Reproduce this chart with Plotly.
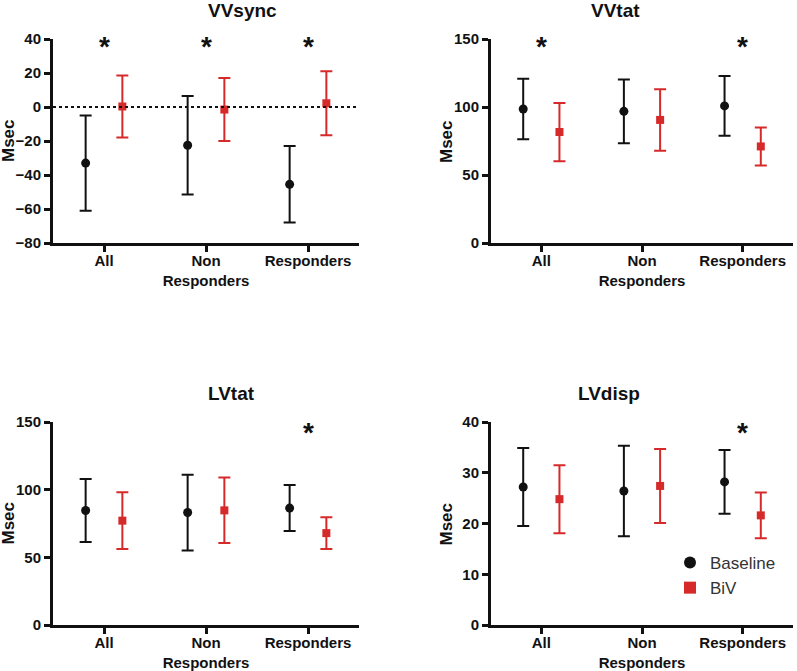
import plotly.graph_objects as go

W, H = 797, 671

categories = ["All", "Non<br>Responders", "Responders"]
series_names = ["Baseline", "BiV"]

# VVsync
vvsync_base_mean = [-33, -22.5, -45.5]
vvsync_base_err = [28, 29, 22.5]
vvsync_biv_mean = [0.3, -1.5, 2.2]
vvsync_biv_err = [18.3, 18.5, 18.8]
vvsync_sig = [True, True, True]

# VVtat
vvtat_base_mean = [98.5, 96.8, 100.8]
vvtat_base_err = [22.2, 23.5, 22]
vvtat_biv_mean = [81.6, 90.5, 71]
vvtat_biv_err = [21.4, 22.6, 14]
vvtat_sig = [True, False, True]

# LVtat
lvtat_base_mean = [84.6, 83.1, 86.4]
lvtat_base_err = [23.2, 28, 17]
lvtat_biv_mean = [77.1, 84.7, 67.9]
lvtat_biv_err = [21, 24.2, 11.7]
lvtat_sig = [False, False, True]

# LVdisp
lvdisp_base_mean = [27.2, 26.4, 28.2]
lvdisp_base_err = [7.7, 8.9, 6.3]
lvdisp_biv_mean = [24.8, 27.4, 21.6]
lvdisp_biv_err = [6.7, 7.3, 4.5]
lvdisp_sig = [False, False, True]

panel_titles = ["VVsync", "VVtat", "LVtat", "LVdisp"]
y_title = "Msec"
y_ranges = [[-80, 40], [0, 150], [0, 150], [0, 40]]
y_dticks = [20, 50, 50, 10]

panels = [
    (vvsync_base_mean, vvsync_base_err, vvsync_biv_mean, vvsync_biv_err, vvsync_sig),
    (vvtat_base_mean, vvtat_base_err, vvtat_biv_mean, vvtat_biv_err, vvtat_sig),
    (lvtat_base_mean, lvtat_base_err, lvtat_biv_mean, lvtat_biv_err, lvtat_sig),
    (lvdisp_base_mean, lvdisp_base_err, lvdisp_biv_mean, lvdisp_biv_err, lvdisp_sig),
]

# pixel boxes (left, right, top, bottom) of each plot area
boxes = [(53, 359, 39, 243), (491, 793, 39, 243), (53, 359, 422, 625), (491, 793, 422, 625)]


def px_x(x):
    return x / W


def px_y(y):
    return 1 - y / H


BLACK = "#111111"
RED = "#d62a2a"
FONT = "Liberation Sans, Arial, sans-serif"
OFFSET = 0.18

fig = go.Figure()
idx = list(range(len(categories)))

for p, (bm, be, rm, re, sig) in enumerate(panels):
    xa = "x" if p == 0 else f"x{p+1}"
    ya = "y" if p == 0 else f"y{p+1}"
    fig.add_trace(go.Scatter(
        x=[i - OFFSET for i in idx], y=bm, mode="markers",
        marker=dict(symbol="circle", size=9, color=BLACK),
        error_y=dict(type="data", array=be, visible=True, color=BLACK, thickness=2, width=6),
        name=series_names[0], legendgroup="b", showlegend=(p == 3),
        xaxis=xa, yaxis=ya))
    fig.add_trace(go.Scatter(
        x=[i + OFFSET for i in idx], y=rm, mode="markers",
        marker=dict(symbol="square", size=8, color=RED),
        error_y=dict(type="data", array=re, visible=True, color=RED, thickness=2, width=6),
        name=series_names[1], legendgroup="r", showlegend=(p == 3),
        xaxis=xa, yaxis=ya))

    l, r, t, b = boxes[p]
    xdom = [px_x(l), px_x(r)]
    ydom = [px_y(b), px_y(t)]
    axis_common = dict(showline=True, linewidth=3, linecolor=BLACK, mirror=False,
                       ticks="outside", ticklen=6, tickwidth=2.5, tickcolor=BLACK,
                       showgrid=False, zeroline=False, automargin=False,
                       tickfont=dict(family=FONT, size=15, color=BLACK, weight="bold"))
    fig.layout[f"xaxis{'' if p == 0 else p+1}"] = dict(
        domain=xdom, anchor=ya, range=[-0.5, 2.5], tickvals=idx, ticktext=categories,
        ticklabelstandoff=-4, fixedrange=True, **axis_common)
    fig.layout[f"yaxis{'' if p == 0 else p+1}"] = dict(
        domain=ydom, anchor=xa, range=y_ranges[p], dtick=y_dticks[p], fixedrange=True,
        **axis_common)

    # panel title
    fig.add_annotation(x=(xdom[0] + xdom[1]) / 2, y=px_y(t - 29), xref="paper", yref="paper",
                       text=panel_titles[p], showarrow=False, yanchor="middle",
                       font=dict(family=FONT, size=19, color=BLACK, weight="bold"))
    # y-axis title
    fig.add_annotation(x=px_x(l - 45), y=(ydom[0] + ydom[1]) / 2, xref="paper", yref="paper",
                       text=y_title, textangle=-90, showarrow=False,
                       xanchor="center", yanchor="middle",
                       font=dict(family=FONT, size=17, color=BLACK, weight="bold"))
    lo, hi = y_ranges[p]
    for i, s in enumerate(sig):
        if s:
            sy = hi - (hi - lo) * (0.035 if p < 2 else 0.05)
            fig.add_annotation(x=i, y=sy, xref=xa, yref=ya, text="*", showarrow=False,
                               yanchor="middle",
                               font=dict(family=FONT, size=28, color=BLACK, weight="bold"))

fig.add_shape(type="line", x0=-0.5, x1=2.5, y0=0, y1=0, xref="x", yref="y",
              line=dict(color=BLACK, width=2, dash="dot"))

fig.update_layout(
    width=W, height=H, margin=dict(l=0, r=0, t=0, b=0),
    paper_bgcolor="white", plot_bgcolor="white",
    font=dict(family=FONT, color=BLACK),
    legend=dict(x=px_x(670), y=px_y(545), xanchor="left", yanchor="top",
                bgcolor="rgba(0,0,0,0)", font=dict(family=FONT, size=17, color="#333333"),
                itemsizing="constant", tracegroupgap=0),
)

fig.write_html("out.html", config={"displayModeBar": False},
               post_script="document.body.style.margin='0';document.body.style.overflow='hidden';")
